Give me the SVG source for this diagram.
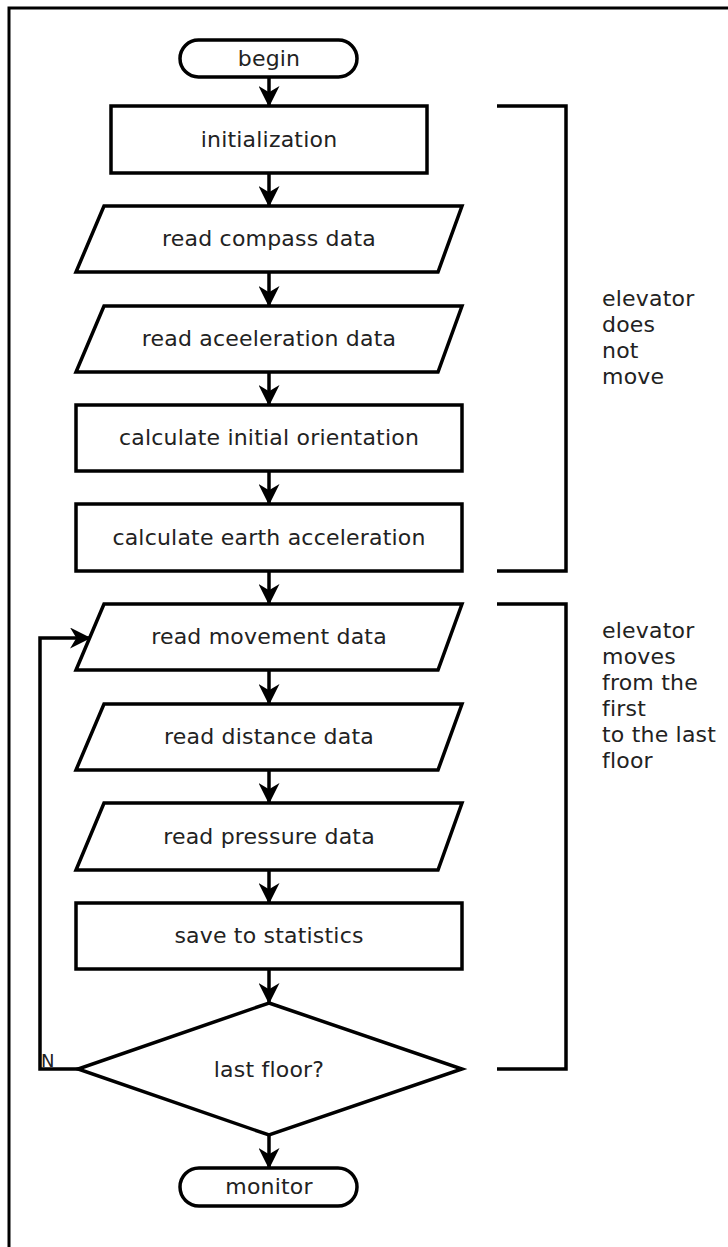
<svg xmlns="http://www.w3.org/2000/svg" width="728" height="1247" viewBox="0 0 728 1247">
<style>
.shape{fill:#fff;stroke:#000;stroke-width:3.5;stroke-linejoin:miter}
.lbl{font-family:"DejaVu Sans",sans-serif;font-size:22px;fill:#222;text-anchor:middle;letter-spacing:0.2px}
.note{font-family:"DejaVu Sans",sans-serif;font-size:22px;fill:#222;letter-spacing:0.2px}
.conn{fill:none;stroke:#000;stroke-width:3.5}
.arr{marker-end:url(#ah)}
</style>
<defs>
<marker id="ah" viewBox="0 0 20 20" refX="19" refY="10" markerWidth="21" markerHeight="21" markerUnits="userSpaceOnUse" orient="auto">
<path d="M0,0 L20,10 L0,20 L6,10 Z" fill="#000"/>
</marker>
</defs>
<rect x="0" y="0" width="728" height="1247" fill="#fff"/>
<rect x="9" y="8" width="800" height="1300" fill="none" stroke="#000" stroke-width="3"/>
<g id="connectors">
<path class="conn arr" d="M269,77 V106"/>
<path class="conn arr" d="M269,173 V206"/>
<path class="conn arr" d="M269,272 V306"/>
<path class="conn arr" d="M269,372 V405"/>
<path class="conn arr" d="M269,471 V504"/>
<path class="conn arr" d="M269,571 V604"/>
<path class="conn arr" d="M269,670 V704"/>
<path class="conn arr" d="M269,770 V803"/>
<path class="conn arr" d="M269,870 V903"/>
<path class="conn arr" d="M269,969 V1003"/>
<path class="conn arr" d="M269,1135 V1168"/>
<path class="conn arr" d="M78,1069 H40 V638 H90"/>
<text x="41" y="1067" style="font-family:'DejaVu Sans',sans-serif;font-size:18px;fill:#222">N</text>
</g>
<g id="begin">
<rect class="shape" x="180" y="40" width="177" height="37" rx="18.5"/>
<text class="lbl" x="269" y="66">begin</text>
</g>
<g id="initialization">
<rect class="shape" x="111" y="106" width="316" height="67"/>
<text class="lbl" x="269" y="147">initialization</text>
</g>
<g id="read-compass">
<polygon class="shape" points="104,206 462,206 438,272 76,272"/>
<text class="lbl" x="269" y="246">read compass data</text>
</g>
<g id="read-acceleration">
<polygon class="shape" points="104,306 462,306 438,372 76,372"/>
<text class="lbl" x="269" y="346">read aceeleration data</text>
</g>
<g id="calc-orientation">
<rect class="shape" x="76" y="405" width="386" height="66"/>
<text class="lbl" x="269" y="445">calculate initial orientation</text>
</g>
<g id="calc-earth">
<rect class="shape" x="76" y="504" width="386" height="67"/>
<text class="lbl" x="269" y="545">calculate earth acceleration</text>
</g>
<g id="read-movement">
<polygon class="shape" points="104,604 462,604 438,670 76,670"/>
<text class="lbl" x="269" y="644">read movement data</text>
</g>
<g id="read-distance">
<polygon class="shape" points="104,704 462,704 438,770 76,770"/>
<text class="lbl" x="269" y="744">read distance data</text>
</g>
<g id="read-pressure">
<polygon class="shape" points="104,803 462,803 438,870 76,870"/>
<text class="lbl" x="269" y="844">read pressure data</text>
</g>
<g id="save-statistics">
<rect class="shape" x="76" y="903" width="386" height="66"/>
<text class="lbl" x="269" y="943">save to statistics</text>
</g>
<g id="last-floor">
<polygon class="shape" points="269,1003 462,1069 269,1135 78,1069"/>
<text class="lbl" x="269" y="1077">last floor?</text>
</g>
<g id="monitor">
<rect class="shape" x="180" y="1168" width="177" height="38" rx="19"/>
<text class="lbl" x="269" y="1194">monitor</text>
</g>
<g id="bracket-static">
<path class="conn" d="M497,106 H566 V571 H497"/>
<text class="note" x="602" y="306">elevator</text>
<text class="note" x="602" y="332">does</text>
<text class="note" x="602" y="358">not</text>
<text class="note" x="602" y="384">move</text>
</g>
<g id="bracket-moving">
<path class="conn" d="M497,604 H566 V1069 H497"/>
<text class="note" x="602" y="638">elevator</text>
<text class="note" x="602" y="664">moves</text>
<text class="note" x="602" y="690">from the</text>
<text class="note" x="602" y="716">first</text>
<text class="note" x="602" y="742">to the last</text>
<text class="note" x="602" y="768">floor</text>
</g>
</svg>
